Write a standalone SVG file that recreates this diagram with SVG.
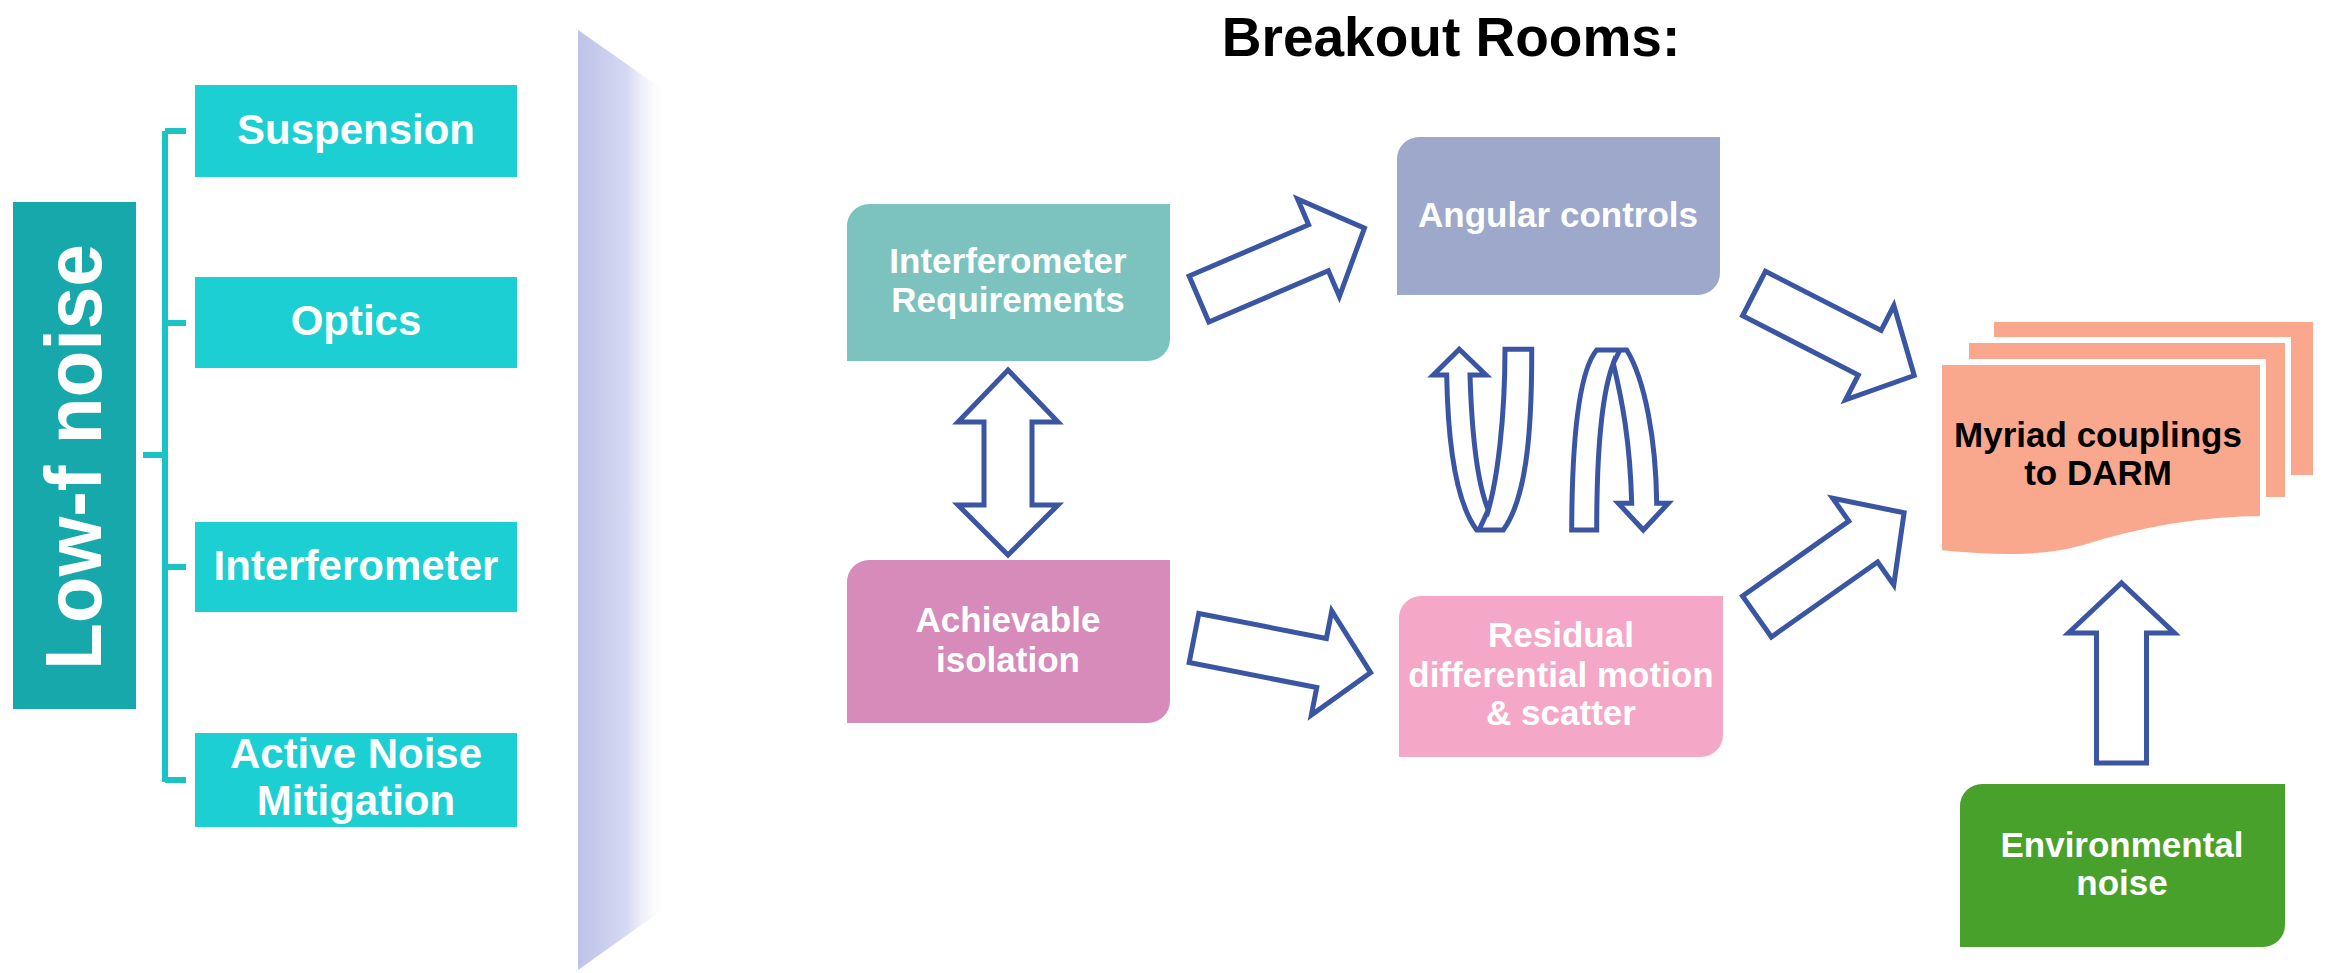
<svg xmlns="http://www.w3.org/2000/svg" width="2331" height="973" viewBox="0 0 2331 973">
  <defs>
    <style>
      .t { font-family: "Liberation Sans", Arial, sans-serif; font-weight: bold; text-anchor: middle; }
      .w { fill: #ffffff; }
      .k { fill: #000000; }
      .f42 { font-size: 42px; }
      .f35 { font-size: 35px; }
      .sub { fill: #1BCFD2; }
      .br { stroke: #1BC3C6; stroke-width: 6; fill: none; }
      .arr { fill: #ffffff; stroke: #3A55A1; stroke-width: 5; stroke-linejoin: miter; }
      .sheet { fill: #F9A78D; stroke: #ffffff; stroke-width: 6; }
    </style>
    <linearGradient id="panel" x1="0" y1="0" x2="1" y2="0">
      <stop offset="0" stop-color="#BDC2E8"/>
      <stop offset="0.55" stop-color="#D6D9F1"/>
      <stop offset="1" stop-color="#FFFFFF" stop-opacity="0"/>
    </linearGradient>
    <path id="blk" d="M0,-25 L130,-25 L130,-53 L180,0 L130,53 L130,25 L0,25 Z"/>
  </defs>

  <rect width="2331" height="973" fill="#ffffff"/>

  <!-- perspective panel -->
  <polygon points="578,30 668,93 668,906 578,970" fill="url(#panel)"/>

  <!-- title -->
  <text class="t k" x="1451" y="56" font-size="55">Breakout Rooms:</text>

  <!-- left tree -->
  <g id="low-f-noise">
    <rect x="13" y="202" width="123" height="507" fill="#17A8AB"/>
    <text class="t w" font-size="80" transform="translate(101,457) rotate(-90)" textLength="426" lengthAdjust="spacingAndGlyphs">Low-f noise</text>
  </g>
  <g id="bracket">
    <path class="br" d="M143,455 H165 M165,131 V782 M165,131 H186 M165,323 H186 M165,567 H186 M165,780 H186"/>
  </g>
  <g id="suspension">
    <rect class="sub" x="195" y="85" width="322" height="92"/>
    <text class="t w f42" x="356" y="144">Suspension</text>
  </g>
  <g id="optics">
    <rect class="sub" x="195" y="277" width="322" height="91"/>
    <text class="t w f42" x="356" y="335">Optics</text>
  </g>
  <g id="interferometer">
    <rect class="sub" x="195" y="522" width="322" height="90"/>
    <text class="t w f42" x="356" y="580">Interferometer</text>
  </g>
  <g id="active-noise">
    <rect class="sub" x="195" y="733" width="322" height="94"/>
    <text class="t w f42" x="356" y="768">Active Noise</text>
    <text class="t w f42" x="356" y="815">Mitigation</text>
  </g>

  <!-- breakout nodes -->
  <g id="ifo-requirements">
    <path d="M869,204 H1170 V339 A22,22 0 0 1 1148,361 H847 V226 A22,22 0 0 1 869,204 Z" fill="#7CC3C0"/>
    <text class="t w f35" x="1008" y="273">Interferometer</text>
    <text class="t w f35" x="1008" y="312">Requirements</text>
  </g>
  <g id="achievable-isolation">
    <path d="M869,560 H1170 V701 A22,22 0 0 1 1148,723 H847 V582 A22,22 0 0 1 869,560 Z" fill="#D68BBA"/>
    <text class="t w f35" x="1008" y="632">Achievable</text>
    <text class="t w f35" x="1008" y="672">isolation</text>
  </g>
  <g id="angular-controls">
    <path d="M1419,137 H1720 V273 A22,22 0 0 1 1698,295 H1397 V159 A22,22 0 0 1 1419,137 Z" fill="#9DA8CB"/>
    <text class="t w f35" x="1558" y="227">Angular controls</text>
  </g>
  <g id="residual-motion">
    <path d="M1421,596 H1723 V735 A22,22 0 0 1 1701,757 H1399 V618 A22,22 0 0 1 1421,596 Z" fill="#F5A7C7"/>
    <text class="t w f35" x="1561" y="647">Residual</text>
    <text class="t w f35" x="1561" y="687">differential motion</text>
    <text class="t w f35" x="1561" y="725">&amp; scatter</text>
  </g>
  <g id="myriad-couplings">
    <rect class="sheet" x="1991" y="319" width="325" height="159"/>
    <rect class="sheet" x="1966" y="340" width="322" height="160"/>
    <path class="sheet" d="M1939,362 H2263 V519 C2200,519 2140,530 2080,549 C2040,560 1990,558 1939,553 Z"/>
    <text class="t k f35" x="2098" y="447">Myriad couplings</text>
    <text class="t k f35" x="2098" y="485">to DARM</text>
  </g>
  <g id="environmental-noise">
    <path d="M1982,784 H2285 V925 A22,22 0 0 1 2263,947 H1960 V806 A22,22 0 0 1 1982,784 Z" fill="#47A12B"/>
    <text class="t w f35" x="2122" y="857">Environmental</text>
    <text class="t w f35" x="2122" y="895">noise</text>
  </g>

  <!-- connectors -->
  <g id="connectors">
    <use href="#blk" class="arr" transform="translate(1199,299) rotate(-23.2)"/>
    <use href="#blk" class="arr" transform="translate(1194,638) rotate(11.1)"/>
    <use href="#blk" class="arr" transform="translate(1754,293.5) rotate(27.1)"/>
    <use href="#blk" class="arr" transform="translate(1757,616.5) rotate(-35.2)"/>
    <use href="#blk" class="arr" transform="translate(2121.5,763) rotate(-90)"/>
    <path class="arr" d="M1008,370 L1058,422 L1032,422 L1032,505 L1058,505 L1008,555 L958,505 L984,505 L984,422 L958,422 Z"/>
    <path class="arr" d="M1459.3,349.3 L1486,375 L1470,375 C1472,440 1478,485 1488.3,510 C1497,480 1505,420 1505,349.3 L1531.7,349.3 C1532,440 1525,500 1503.3,530 L1476.7,530 C1458,505 1448,450 1446.7,375 L1433.3,375 Z"/>
    <path class="arr" fill="none" d="M1488.3,510 L1479,530"/>
    <path class="arr" d="M1571.7,530 C1572,430 1580,370 1596.7,350 L1626.7,350 C1645,380 1656,440 1656.7,503.3 L1668.3,503.3 L1643.3,530 L1618.3,503.3 L1631.7,503.3 C1630,440 1622,400 1613.3,363.3 C1603,390 1596.7,440 1596.7,530 Z"/>
    <path class="arr" fill="none" d="M1613.3,363.3 L1620,350"/>
  </g>
</svg>
